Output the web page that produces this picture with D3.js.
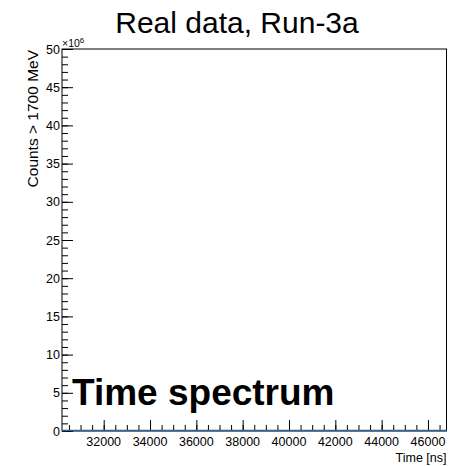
<!DOCTYPE html>
<html>

<head>
    <style>
        body {
            margin: 0;
            background-color: #ffffff;
        }

        svg {
            display: block;
            font-family: "Liberation Sans", Arial, sans-serif;
        }
    </style>
</head>

<body>
    <div id="chart"></div>

    <script src="https://d3js.org/d3.v7.min.js"></script>
    <script>
        // histogram bins (ns) and counts (x10^6), all close to zero
        var binEdges = [30200, 31583, 32967, 34350, 35733, 37117, 38500, 39883, 41267, 42650, 44033, 45417, 46800];
        var counts = [0.06, 0.05, 0.05, 0.06, 0.05, 0.05, 0.06, 0.05, 0.05, 0.06, 0.05, 0.05];
        var xMajorTicks = [32000, 34000, 36000, 38000, 40000, 42000, 44000, 46000];
        var yMajorTicks = [0, 5, 10, 15, 20, 25, 30, 35, 40, 45, 50];

        var width = 455, height = 466;
        var frameL = 62, frameR = 446.5, frameT = 49, frameB = 431;

        var svg = d3.select("#chart").append("svg")
            .attr("width", width)
            .attr("height", height);

        var x = d3.scaleLinear().domain([30200, 46800]).range([frameL, frameR]);
        var y = d3.scaleLinear().domain([0, 50]).range([frameB, frameT]);

        // frame
        svg.append("rect")
            .attr("x", frameL)
            .attr("y", frameT)
            .attr("width", frameR - frameL)
            .attr("height", frameB - frameT)
            .attr("fill", "none")
            .attr("stroke", "#000")
            .attr("stroke-width", 1);

        // x axis ticks (pointing up), minor every 500
        var xMinor = d3.range(30500, 46800, 500);
        svg.append("g")
            .attr("transform", "translate(0," + frameB + ")")
            .call(d3.axisTop(x).tickValues(xMinor).tickSize(6).tickFormat(""))
            .call(g => g.select(".domain").remove());
        svg.append("g")
            .attr("transform", "translate(0," + frameB + ")")
            .call(d3.axisTop(x).tickValues(xMajorTicks).tickSize(11).tickFormat(""))
            .call(g => g.select(".domain").remove());

        svg.append("g").selectAll("text")
            .data(xMajorTicks)
            .enter()
            .append("text")
            .attr("x", d => x(d))
            .attr("y", 446)
            .attr("text-anchor", "middle")
            .attr("font-size", 12.5)
            .text(d => d);

        // y axis ticks (pointing right), minor every 1
        var yMinor = d3.range(0, 51, 1);
        svg.append("g")
            .attr("transform", "translate(" + frameL + ",0)")
            .call(d3.axisRight(y).tickValues(yMinor).tickSize(6).tickFormat(""))
            .call(g => g.select(".domain").remove());
        svg.append("g")
            .attr("transform", "translate(" + frameL + ",0)")
            .call(d3.axisRight(y).tickValues(yMajorTicks).tickSize(11).tickFormat(""))
            .call(g => g.select(".domain").remove());

        svg.append("g").selectAll("text")
            .data(yMajorTicks)
            .enter()
            .append("text")
            .attr("x", frameL - 2)
            .attr("y", d => y(d) + 4.5)
            .attr("text-anchor", "end")
            .attr("font-size", 12.5)
            .text(d => d);

        // exponent
        var ex = svg.append("text")
            .attr("x", frameL)
            .attr("y", 47)
            .attr("font-size", 10.5);
        ex.append("tspan").text("\u00d710");
        ex.append("tspan").attr("dy", -4).attr("font-size", 8).text("6");

        // histogram line
        var pts = [];
        counts.forEach(function (c, i) {
            pts.push([binEdges[i], c]);
            pts.push([binEdges[i + 1], c]);
        });
        svg.append("path")
            .datum(pts)
            .attr("fill", "none")
            .attr("stroke", "#2a6496")
            .attr("stroke-width", 1.5)
            .attr("d", d3.line().x(d => x(d[0])).y(d => y(d[1])));

        // titles
        svg.append("text")
            .attr("x", 237)
            .attr("y", 33)
            .attr("text-anchor", "middle")
            .attr("font-size", 30)
            .text("Real data, Run-3a");

        svg.append("text")
            .attr("x", 72)
            .attr("y", 405)
            .attr("font-size", 37)
            .attr("font-weight", "bold")
            .text("Time spectrum");

        svg.append("text")
            .attr("x", frameR)
            .attr("y", 462)
            .attr("text-anchor", "end")
            .attr("font-size", 12.5)
            .text("Time [ns]");

        svg.append("text")
            .attr("transform", "translate(38,50) rotate(-90)")
            .attr("text-anchor", "end")
            .attr("font-size", 15.5)
            .text("Counts > 1700 MeV");
    </script>
</body>

</html>
